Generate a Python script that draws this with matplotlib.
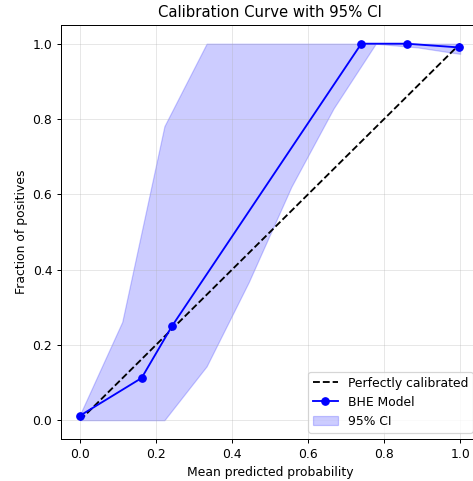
import numpy as np
import matplotlib
matplotlib.use("Agg")
import matplotlib.pyplot as plt

# calibration points
mean_pred = [0.0, 0.162, 0.242, 0.740, 0.859, 0.998]
frac_pos = [0.012, 0.112, 0.25, 1.0, 1.0, 0.99]

# 95% CI band on a 10-point grid
ci_x = [0.0, 0.111, 0.222, 0.333, 0.444, 0.556, 0.667, 0.778, 0.889, 1.0]
ci_lower = [0.0, 0.0, 0.0, 0.143, 0.367, 0.62, 0.828, 1.0, 0.99, 0.973]
ci_upper = [0.015, 0.261, 0.781, 1.0, 1.0, 1.0, 1.0, 1.0, 1.0, 1.0]

dpi = 89
fig = plt.figure(figsize=(473 / dpi, 481 / dpi), dpi=dpi)
ax = fig.add_axes([0.129, 0.0873, 0.884, 0.861])

ax.plot([0, 1], [0, 1], 'k--', label='Perfectly calibrated')
ax.plot(mean_pred, frac_pos, marker='o', color='blue', label='BHE Model')
ax.fill_between(ci_x, ci_lower, ci_upper, color='blue', alpha=0.2, label='95% CI')

ax.set_xlim(-0.05, 1.05)
ax.set_ylim(-0.05, 1.05)
ax.set_xlabel('Mean predicted probability')
ax.set_ylabel('Fraction of positives')
ax.set_title('Calibration Curve with 95% CI')
ax.legend(loc='lower right')
ax.grid(True, alpha=0.3)

fig.savefig('out.png', dpi=dpi)
